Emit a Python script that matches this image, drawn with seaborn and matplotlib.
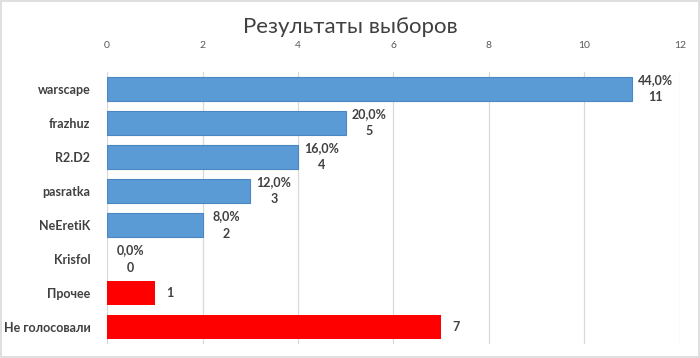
import matplotlib
matplotlib.use("Agg")
import matplotlib.pyplot as plt
import seaborn as sns
import pandas as pd

categories = ["warscape", "frazhuz", "R2.D2", "pasratka", "NeEretiK", "Krisfol", "Прочее", "Не голосовали"]
votes = [11, 5, 4, 3, 2, 0, 1, 7]
percent_labels = ["44,0%", "20,0%", "16,0%", "12,0%", "8,0%", "0,0%", None, None]
groups = ["кандидат"] * 6 + ["прочее"] * 2
x_ticks = [0, 2, 4, 6, 8, 10, 12]

sns.set_theme(style="white")
plt.rcParams["font.family"] = ["Lato", "DejaVu Sans"]

df = pd.DataFrame({"cat": categories, "votes": votes, "group": groups})
palette = {"кандидат": "#5B9BD5", "прочее": "#FF0000"}

fig = plt.figure(figsize=(7, 3.58), dpi=100)
ax = fig.add_axes([0.153, 0.039, 0.818, 0.760])

sns.barplot(data=df, y="cat", x="votes", hue="group", palette=palette, dodge=False,
            width=0.7, legend=False, ax=ax, orient="h", saturation=1)
for bar in ax.patches:
    fc = bar.get_facecolor()
    if fc[2] > 0.5 and bar.get_width() > 0:
        bar.set_edgecolor("#4A86C2")
        bar.set_linewidth(0.8)
    else:
        bar.set_edgecolor("none")
        bar.set_linewidth(0)

ax.set_xlim(0, 12)
ax.set_ylim(7.5, -0.5)
ax.set_xticks(x_ticks)
ax.xaxis.tick_top()
ax.tick_params(axis="x", length=0, labelsize=7.5, labelcolor="#595959", pad=16)
ax.tick_params(axis="y", length=0, labelsize=9, labelcolor="#404040", pad=12)
for t in ax.get_yticklabels():
    t.set_fontweight("bold")
ax.set_xlabel("")
ax.set_ylabel("")
ax.grid(axis="x", color="#D9D9D9", linewidth=0.9)
ax.set_axisbelow(True)
for s in ax.spines.values():
    s.set_visible(False)

for i, (v, pl) in enumerate(zip(votes, percent_labels)):
    if pl is not None:
        ax.annotate(f"{pl}\n{v}", xy=(v, i), xytext=(17, 0), textcoords="offset points",
                    ha="center", va="center", fontsize=9, fontweight="bold",
                    color="#404040", linespacing=1.5)
    else:
        ax.annotate(f"{v}", xy=(v, i), xytext=(8, 0), textcoords="offset points",
                    ha="left", va="center", fontsize=9, fontweight="bold", color="#404040")

fig.text(0.5, 0.925, "Результаты выборов", ha="center", va="center", fontsize=16, color="#404040")
fig.patches.append(plt.Rectangle((0.002, 0.003), 0.996, 0.994, transform=fig.transFigure,
                                 fill=False, edgecolor="#D9D9D9", linewidth=1.2))
fig.savefig("out.png", dpi=100)
